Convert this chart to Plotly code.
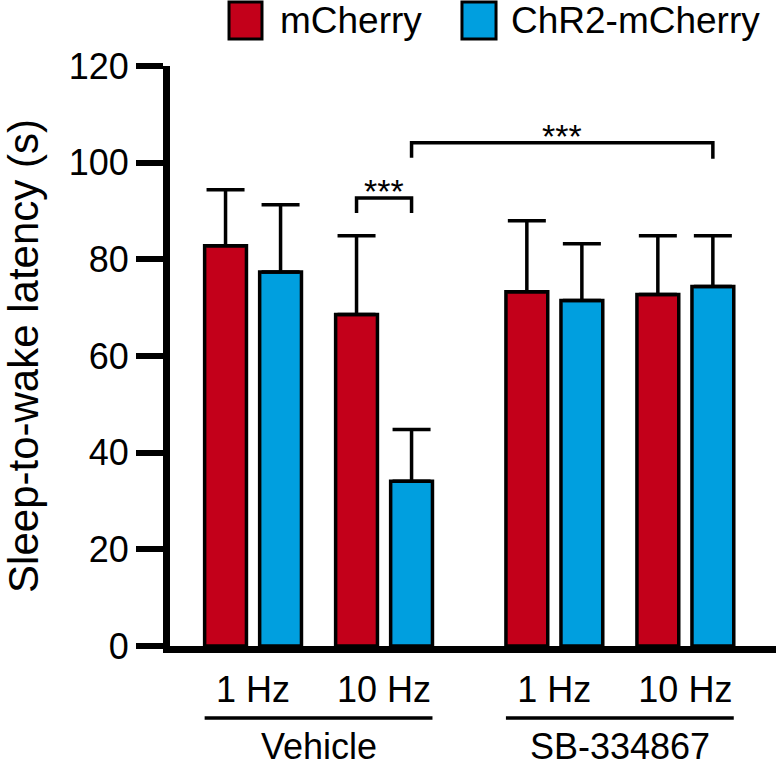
import plotly.graph_objects as go

# ---- data ----
conditions = ["1 Hz", "10 Hz", "1 Hz", "10 Hz"]
treatments = ["Vehicle", "Vehicle", "SB-334867", "SB-334867"]
group_names = ["Vehicle", "SB-334867"]
mcherry = [82.8, 68.6, 73.3, 72.7]
mcherry_err = [11.6, 16.3, 14.7, 12.2]
chr2 = [77.4, 34.1, 71.5, 74.4]
chr2_err = [13.9, 10.7, 11.7, 10.5]
y_ticks = [0, 20, 40, 60, 80, 100, 120]

RED = "#C3001A"
BLUE = "#009FDF"
FONT = "Liberation Sans, Arial, Helvetica, sans-serif"

# slot positions: conditions spaced 1 apart, extra gap between treatment groups
GROUP_GAP = 0.3
xpos = []
for i, t in enumerate(treatments):
    gi = group_names.index(t)
    xpos.append(i + gi * GROUP_GAP)

BARGAP = 0.16
BARGROUPGAP = 0.24
off = (1 - BARGAP) / 4            # centre offset of each bar in a pair
half_w = (1 - BARGAP) / 4 * (1 - BARGROUPGAP)  # half bar width

fig = go.Figure()
fig.add_trace(go.Bar(
    x=xpos, y=mcherry, name="mCherry",
    marker=dict(color=RED, line=dict(color="black", width=3.5)),
    error_y=dict(type="data", array=mcherry_err, arrayminus=[0] * 4, symmetric=False,
                 color="black", thickness=3.5, width=19),
    showlegend=False,
))
fig.add_trace(go.Bar(
    x=xpos, y=chr2, name="ChR2-mCherry",
    marker=dict(color=BLUE, line=dict(color="black", width=3.5)),
    error_y=dict(type="data", array=chr2_err, arrayminus=[0] * 4, symmetric=False,
                 color="black", thickness=3.5, width=19),
    showlegend=False,
))

shapes = []
annotations = []

# significance brackets
def bracket(x1, x2, level, leg1, leg2):
    path = f"M {x1},{level - leg1} L {x1},{level} L {x2},{level} L {x2},{level - leg2}"
    shapes.append(dict(type="path", path=path, xref="x", yref="y",
                       line=dict(color="black", width=3.5)))
    annotations.append(dict(x=(x1 + x2) / 2, y=level, xref="x", yref="y",
                            text="***", showarrow=False, yanchor="middle", yshift=7,
                            font=dict(size=34, color="black", family=FONT)))

# within Vehicle 10 Hz: mCherry vs ChR2
bracket(xpos[1] - off, xpos[1] + off, 92.7, 3.1, 3.1)
# ChR2 10 Hz: Vehicle vs SB-334867
bracket(xpos[1] + off, xpos[3] + off, 104.1, 3.1, 3.3)

# group underlines and labels
for g in group_names:
    idx = [i for i, t in enumerate(treatments) if t == g]
    x0 = xpos[idx[0]] - off - half_w
    x1 = xpos[idx[-1]] + off + half_w
    shapes.append(dict(type="line", xref="x", yref="paper", x0=x0, x1=x1,
                       y0=-0.124, y1=-0.124, line=dict(color="black", width=3.5)))
    annotations.append(dict(x=(xpos[idx[0]] + xpos[idx[-1]]) / 2, y=-0.174,
                            xref="x", yref="paper", text=g, showarrow=False,
                            yanchor="middle", font=dict(size=36, color="black", family=FONT)))

# manual legend
leg = [("mCherry", RED, 0.0974, 0.1518, 0.178), ("ChR2-mCherry", BLUE, 0.4818, 0.538, 0.559)]
for name, col, sx0, sx1, tx in leg:
    shapes.append(dict(type="rect", xref="paper", yref="paper", x0=sx0, x1=sx1,
                       y0=1.0466, y1=1.1103, fillcolor=col,
                       line=dict(color="black", width=3)))
    annotations.append(dict(x=tx, y=1.0776, xref="paper", yref="paper", text=name,
                            showarrow=False, xanchor="left", yanchor="middle",
                            font=dict(size=37, color="black", family=FONT)))

fig.update_layout(
    width=776, height=768,
    margin=dict(l=170, r=0, t=66, b=122),
    plot_bgcolor="white", paper_bgcolor="white",
    barmode="group", bargap=BARGAP, bargroupgap=BARGROUPGAP,
    font=dict(family=FONT, color="black"),
    shapes=shapes, annotations=annotations,
    xaxis=dict(range=[-0.634, 3.992], tickvals=xpos, ticktext=conditions,
               showline=True, linecolor="black", linewidth=7, ticks="",
               showgrid=False, zeroline=False, tickfont=dict(size=36),
               ticklabelstandoff=6),
    yaxis=dict(range=[0, 120], tickvals=y_ticks, showline=True, linecolor="black",
               linewidth=7, ticks="outside", ticklen=27, tickwidth=6, tickcolor="black",
               showgrid=False, zeroline=False, tickfont=dict(size=36),
               title=dict(text="Sleep-to-wake latency (s)", font=dict(size=42), standoff=22)),
)

fig.write_html("out.html",
               config={"displayModeBar": False},
               post_script="document.body.style.margin='0';document.body.style.overflow='hidden';")
